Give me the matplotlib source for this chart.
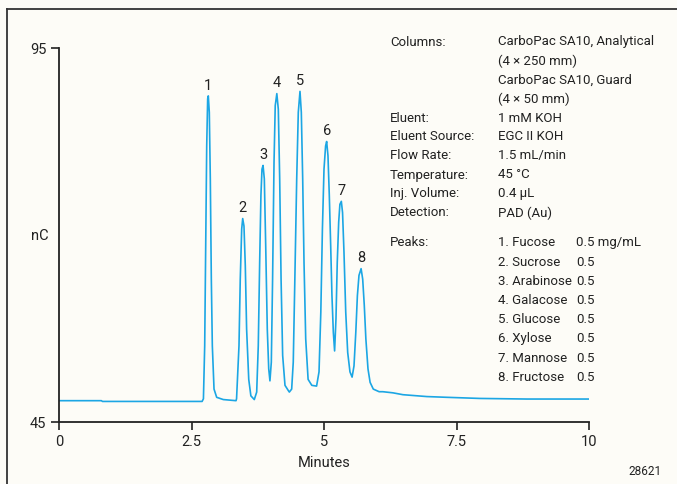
import matplotlib
matplotlib.use("Agg")
import matplotlib.pyplot as plt
from matplotlib.lines import Line2D

plt.rcParams['font.family'] = ['Roboto', 'DejaVu Sans']

# chromatogram trace (minutes, nC)
time = [0.0, 0.8, 0.82, 2.70, 2.725, 2.749, 2.768, 2.787, 2.805, 2.817, 2.836, 2.855,
        2.874, 2.893, 2.925, 2.975, 3.10, 3.34,
        3.35, 3.396, 3.42, 3.447, 3.466, 3.49, 3.515, 3.54, 3.58, 3.62, 3.685,
        3.73, 3.76, 3.786, 3.81, 3.83, 3.85, 3.874, 3.90, 3.93, 3.957, 3.98,
        4.006, 4.03, 4.057, 4.08, 4.11, 4.138, 4.164, 4.19, 4.22, 4.264, 4.327, 4.346,
        4.39, 4.42, 4.45, 4.485, 4.515, 4.547, 4.572, 4.598, 4.623, 4.655, 4.70, 4.77, 4.86,
        4.906, 4.94, 4.97, 5.0, 5.03, 5.05, 5.075, 5.10, 5.126, 5.15, 5.176, 5.20,
        5.226, 5.25, 5.277, 5.30, 5.327, 5.35, 5.377, 5.41, 5.447, 5.49, 5.53,
        5.566, 5.60, 5.63, 5.66, 5.70, 5.73, 5.76, 5.79, 5.83, 5.87, 5.93, 6.04,
        6.11, 6.3, 6.49, 6.94, 7.32, 7.94, 8.83, 10.0]
signal = [47.85, 47.85, 47.75, 47.75, 48.1, 55.2, 68.6, 81.9, 88.2, 88.6, 86.4, 77.5,
          64.1, 55.2, 49.4, 48.3, 48.0, 47.85,
          48.1, 55.2, 64.1, 70.8, 72.2, 71.2, 65.9, 57.4, 50.7, 48.5, 48.0,
          49.0, 55.2, 66.3, 75.3, 78.8, 79.3, 77.5, 68.6, 57.4, 52.1, 50.5,
          53.0, 64.1, 79.7, 87.3, 88.9, 86.8, 77.5, 64.1, 53.9, 49.9, 49.2, 49.0,
          49.4, 53.0, 64.1, 77.5, 86.4, 89.2, 86.4, 77.5, 66.3, 56.1, 50.7, 49.9, 49.8,
          51.7, 59.7, 70.8, 78.8, 81.9, 82.5, 80.6, 75.3, 68.6, 61.9, 57.0, 54.5,
          58.8, 66.3, 71.7, 74.1, 74.5, 73.0, 67.7, 59.7, 54.3, 51.7, 51.0,
          52.5, 57.0, 61.9, 64.6, 65.5, 64.1, 60.6, 56.1, 52.1, 50.3, 49.4, 49.05,
          49.05, 48.9, 48.65, 48.4, 48.3, 48.15, 48.07, 48.07]

peak_ids = ['1', '2', '3', '4', '5', '6', '7', '8']
peak_times = [2.817, 3.466, 3.85, 4.11, 4.547, 5.05, 5.327, 5.70]
peak_heights = [88.6, 72.2, 79.3, 88.9, 89.2, 82.5, 74.5, 65.5]

conditions = [
    ('Columns:', 'CarboPac SA10, Analytical'),
    ('', '(4 \u00d7 250 mm)'),
    ('', 'CarboPac SA10, Guard'),
    ('', '(4 \u00d7 50 mm)'),
    ('Eluent:', '1 mM KOH'),
    ('Eluent Source:', 'EGC II KOH'),
    ('Flow Rate:', '1.5 mL/min'),
    ('Temperature:', '45 \u00b0C'),
    ('Inj. Volume:', '0.4 \u00b5L'),
    ('Detection:', 'PAD (Au)'),
]
peak_names = ['Fucose', 'Sucrose', 'Arabinose', 'Galacose', 'Glucose', 'Xylose',
              'Mannose', 'Fructose']
peak_conc = ['0.5 mg/mL', '0.5', '0.5', '0.5', '0.5', '0.5', '0.5', '0.5']

W, H = 677, 485
bg = '#fdfcf7'
blue = '#1ca6e4'
ink = '#222222'
fs = 9.5
fs_axis = 10.5

fig = plt.figure(figsize=(W / 100, H / 100), dpi=100, facecolor=bg)
ax = fig.add_axes([59 / W, 1 - 423 / H, 530 / W, 374 / H], facecolor=bg)

ax.plot(time, signal, color=blue, lw=1.2)
for pid, t, h in zip(peak_ids, peak_times, peak_heights):
    ax.annotate(pid, (t, h), xytext=(0, 3), textcoords='offset points',
                ha='center', va='bottom', fontsize=fs_axis, color=ink)

ax.set_xlim(0, 10)
ax.set_ylim(45, 95)
ax.set_xticks([0, 2.5, 5, 7.5, 10])
ax.set_xticklabels(['0', '2.5', '5', '7.5', '10'])
ax.set_yticks([45, 95])
ax.tick_params(direction='out', length=6, width=1.2, colors=ink, labelsize=fs_axis, pad=3)
for s in ['top', 'right']:
    ax.spines[s].set_visible(False)
for s in ['left', 'bottom']:
    ax.spines[s].set_linewidth(1.3)
    ax.spines[s].set_color(ink)

ax.set_xlabel('Minutes', fontsize=fs_axis, color=ink)
ax.xaxis.set_label_coords(0.5, (423 - 463) / 374)
ax.xaxis.label.set_va('center')
ax.set_ylabel('nC', fontsize=fs_axis, color=ink, rotation=0, va='center', ha='center')
ax.yaxis.set_label_coords((40 - 59) / 530, 0.5)

# condition block
y = 42
for lab, val in conditions:
    fig.text(390 / W, 1 - y / H, lab, fontsize=fs, color=ink, va='center')
    fig.text(498 / W, 1 - y / H, val, fontsize=fs, color=ink, va='center')
    y += 19
y = 243
fig.text(390 / W, 1 - y / H, 'Peaks:', fontsize=fs, color=ink, va='center')
for i, (name, c) in enumerate(zip(peak_names, peak_conc)):
    fig.text(498 / W, 1 - y / H, f'{i + 1}. {name}', fontsize=fs, color=ink, va='center')
    fig.text(576 / W, 1 - y / H, c, fontsize=fs, color=ink, va='center')
    y += 19.2

fig.text(645 / W, 1 - 472 / H, '28621', fontsize=8.5, color=ink, ha='center', va='center')

# frame around the figure
fig.add_artist(Line2D([7 / W, 7 / W], [0, 1 - 10 / H], color='#333333', lw=1.3))
fig.add_artist(Line2D([7 / W, 1], [1 - 10 / H, 1 - 10 / H], color='#333333', lw=1.3))

fig.savefig('out.png', dpi=100, facecolor=bg)
